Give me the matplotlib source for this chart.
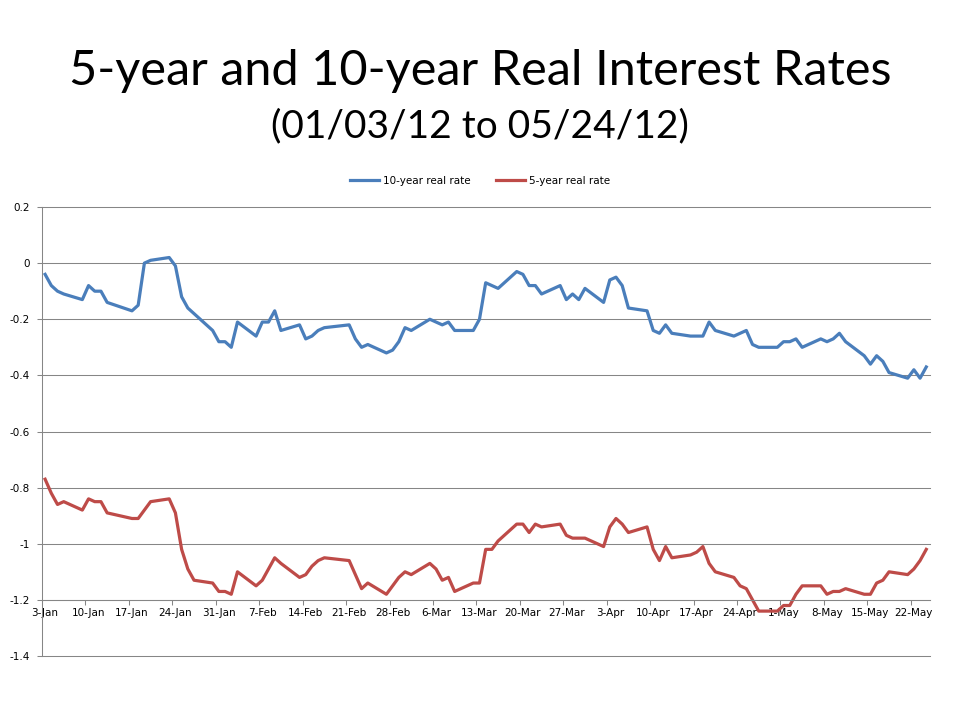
import numpy as np
import pandas as pd
import matplotlib
matplotlib.use('Agg')
import matplotlib.pyplot as plt
import matplotlib.dates as mdates

# trading days 01/03/12 - 05/24/12 (MLK day and Presidents day closed)
holidays = ['2012-01-16', '2012-02-20']
dates = pd.bdate_range('2012-01-03', '2012-05-24')
dates = dates[~dates.isin(pd.to_datetime(holidays))]

ten_jan = [-0.04, -0.08, -0.10, -0.11, -0.13, -0.08, -0.10, -0.10, -0.14, -0.17,
           -0.15, 0.00, 0.01, 0.02, -0.01, -0.12, -0.16, -0.18, -0.24, -0.28]
ten_feb = [-0.28, -0.30, -0.21, -0.26, -0.21, -0.21, -0.17, -0.24, -0.22, -0.27,
           -0.26, -0.24, -0.23, -0.22, -0.27, -0.30, -0.29, -0.32, -0.31, -0.28]
ten_mar = [-0.23, -0.24, -0.20, -0.21, -0.22, -0.21, -0.24, -0.24, -0.20, -0.07, -0.08,
           -0.09, -0.03, -0.04, -0.08, -0.08, -0.11, -0.08, -0.13, -0.11, -0.13, -0.09]
ten_apr = [-0.14, -0.06, -0.05, -0.08, -0.16, -0.17, -0.24, -0.25, -0.22, -0.25, -0.26,
           -0.26, -0.26, -0.21, -0.24, -0.26, -0.25, -0.24, -0.29, -0.30, -0.30]
ten_may = [-0.28, -0.28, -0.27, -0.30, -0.27, -0.28, -0.27, -0.25, -0.28,
           -0.33, -0.36, -0.33, -0.35, -0.39, -0.41, -0.38, -0.41, -0.37]

five_jan = [-0.77, -0.82, -0.86, -0.85, -0.88, -0.84, -0.85, -0.85, -0.89, -0.91,
            -0.91, -0.88, -0.85, -0.84, -0.89, -1.02, -1.09, -1.13, -1.14, -1.17]
five_feb = [-1.17, -1.18, -1.10, -1.15, -1.13, -1.09, -1.05, -1.07, -1.12, -1.11,
            -1.08, -1.06, -1.05, -1.06, -1.11, -1.16, -1.14, -1.18, -1.15, -1.12]
five_mar = [-1.10, -1.11, -1.07, -1.09, -1.13, -1.12, -1.17, -1.14, -1.14, -1.02, -1.02,
            -0.99, -0.93, -0.93, -0.96, -0.93, -0.94, -0.93, -0.97, -0.98, -0.98, -0.98]
five_apr = [-1.01, -0.94, -0.91, -0.93, -0.96, -0.94, -1.02, -1.06, -1.01, -1.05, -1.04,
            -1.03, -1.01, -1.07, -1.10, -1.12, -1.15, -1.16, -1.20, -1.24, -1.24]
five_may = [-1.22, -1.22, -1.18, -1.15, -1.15, -1.18, -1.17, -1.17, -1.16,
            -1.18, -1.18, -1.14, -1.13, -1.10, -1.11, -1.09, -1.06, -1.02]

ten_year = ten_jan + ten_feb + ten_mar + ten_apr + ten_may
five_year = five_jan + five_feb + five_mar + five_apr + five_may

y_ticks = [0.2, 0, -0.2, -0.4, -0.6, -0.8, -1, -1.2, -1.4]
tick_dates = pd.date_range('2012-01-03', '2012-05-22', freq='7D')

blue = '#4A7EBB'
red = '#BE4B48'
grey = '#868686'

fig = plt.figure(figsize=(9.6, 7.2), dpi=100)
ax = fig.add_axes([42/960, 64/720, 888/960, 449/720])

x = mdates.date2num(dates)
ax.plot(x, ten_year, color=blue, lw=2.3, solid_joinstyle='round', label='10-year real rate')
ax.plot(x, five_year, color=red, lw=2.3, solid_joinstyle='round', label='5-year real rate')

ax.set_xlim(x[0] - 0.5, x[-1] + 0.6)
ax.set_ylim(-1.4, 0.2)

ax.set_yticks(y_ticks)
ax.set_yticklabels(['%g' % v for v in y_ticks])
ax.yaxis.grid(True, color=grey, lw=0.75)
ax.set_axisbelow(True)
for gl in ax.get_ygridlines():
    gl.set_clip_on(False)

tx = mdates.date2num(tick_dates)
ax.set_xticks(tx)
ax.set_xticklabels([f'{d.day}-{d:%b}' for d in tick_dates])
ax.set_xticks(tx - 0.5, minor=True)
ax.tick_params(axis='x', which='major', length=0, pad=6, labelsize=7.5)
ax.tick_params(axis='x', which='minor', length=3.6, width=0.75, color=grey, direction='out')
ax.tick_params(axis='y', length=3.6, width=0.75, color=grey, pad=5, labelsize=7.5)

ax.spines['bottom'].set_position(('data', -1.2))
for s in ['top', 'right']:
    ax.spines[s].set_visible(False)
for s in ['left', 'bottom']:
    ax.spines[s].set_color(grey)
    ax.spines[s].set_linewidth(0.75)

fig.text(0.5, 1 - 85/720, '5-year and 10-year Real Interest Rates', ha='center',
         va='baseline', fontsize=35, family='Lato')
fig.text(0.5, 1 - 137/720, '(01/03/12 to 05/24/12)', ha='center',
         va='baseline', fontsize=28, family='Lato')

fig.legend(loc='center', bbox_to_anchor=(0.5, 1 - 181/720), ncol=2, frameon=False,
           fontsize=7.5, handlelength=2.8, handletextpad=0.3, columnspacing=2.5)

fig.savefig('out.png', dpi=100)
